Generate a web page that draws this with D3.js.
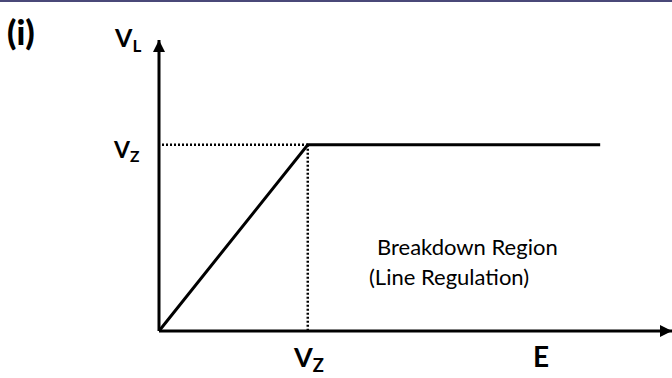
<!DOCTYPE html>
<html><head><meta charset="utf-8">
<script src="https://cdn.jsdelivr.net/npm/d3@7"></script>
<style>body{margin:0;background:#fff}svg{display:block}</style>
</head><body>
<svg id="c" width="672" height="378"></svg>
<script>
// data (arbitrary units, 0-100 scale)
const curveE  = [0, 29, 86];
const curveVL = [0, 64, 64];
const VZ = 64;
const EZ = 29;
const yLabel = ["V", "L"];
const xLabel = "E";
const vzLabel = ["V", "Z"];
const regionText = ["Breakdown Region", "(Line Regulation)"];

const svg = d3.select("#c");
const x = d3.scaleLinear().domain([0, 100]).range([159, 672]);
const y = d3.scaleLinear().domain([0, 100]).range([331, 40]);

svg.append("rect").attr("x",0).attr("y",0).attr("width",672).attr("height",2).attr("fill","#4a4878");

const defs = svg.append("defs");
defs.append("marker").attr("id","arr").attr("viewBox","0 0 10 10").attr("refX",10).attr("refY",5)
  .attr("markerWidth",4).attr("markerHeight",4).attr("markerUnits","strokeWidth").attr("orient","auto")
  .append("path").attr("d","M0,0 L10,5 L0,10 z").attr("fill","#000");

// axes
svg.append("line").attr("x1",x(0)).attr("y1",y(0)).attr("x2",x(0)).attr("y2",y(100))
  .attr("stroke","#000").attr("stroke-width",3).attr("marker-end","url(#arr)");
svg.append("line").attr("x1",x(0)).attr("y1",y(0)).attr("x2",x(100)).attr("y2",y(0))
  .attr("stroke","#000").attr("stroke-width",3).attr("marker-end","url(#arr)");

// dotted guides
svg.append("line").attr("x1",x(0)+3).attr("y1",y(VZ)).attr("x2",x(EZ)).attr("y2",y(VZ))
  .attr("stroke","#000").attr("stroke-width",2.5).attr("stroke-dasharray","2,2");
svg.append("line").attr("x1",x(EZ)).attr("y1",y(VZ)).attr("x2",x(EZ)).attr("y2",y(0))
  .attr("stroke","#000").attr("stroke-width",2.5).attr("stroke-dasharray","2,2");

// curve
const pts = curveE.map((e,i)=>[x(e), y(curveVL[i])]);
svg.append("path").attr("d", d3.line()(pts)).attr("fill","none").attr("stroke","#000").attr("stroke-width",3);

const font = "Lato, 'Open Sans', sans-serif";
function sub(xp, yp, main, s, size) {
  const t = svg.append("text").attr("x",xp).attr("y",yp).attr("font-family",font).attr("font-weight","bold")
    .attr("font-size",size).attr("fill","#000");
  t.append("tspan").text(main);
  t.append("tspan").attr("font-size",size*0.68).attr("dy",size*0.18).text(s);
}
svg.append("text").attr("x",7).attr("y",45).attr("font-family",font).attr("font-weight","900")
  .attr("font-size",34).text("(i)");
sub(115, 47, yLabel[0], yLabel[1], 25);
sub(114, 158, vzLabel[0], vzLabel[1], 23);
sub(294, 367, vzLabel[0], vzLabel[1], 27);
svg.append("text").attr("x",533).attr("y",367).attr("font-family",font).attr("font-weight","bold")
  .attr("font-size",28).text(xLabel);

svg.append("text").attr("x",377).attr("y",255).attr("font-family",font).attr("font-size",22).text(regionText[0]);
svg.append("text").attr("x",369).attr("y",285).attr("font-family",font).attr("font-size",22).text(regionText[1]);
</script>
</body></html>
